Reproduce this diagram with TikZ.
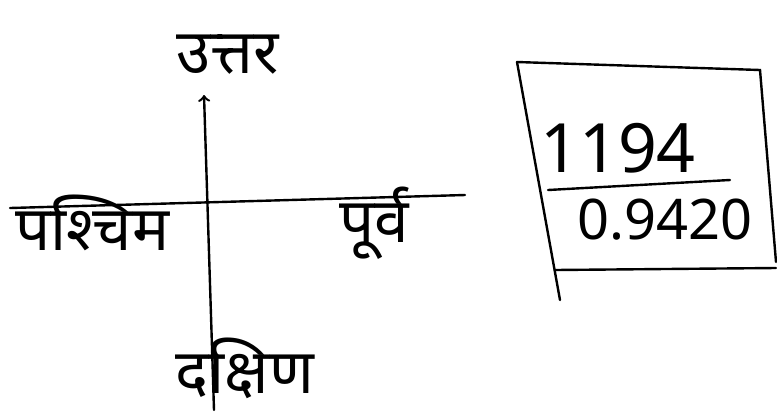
\documentclass[tikz,border=0pt]{standalone}
\usepackage{fontspec}
\newfontfamily\devfont[Script=Devanagari]{Noto Sans}
\begin{document}
\begin{tikzpicture}[x=0.5pt,y=-0.5pt,line width=1.2pt,line cap=round,
    dirlabel/.style={font=\devfont\fontsize{31}{34}\selectfont, inner sep=0pt},
    numlabel/.style={font=\devfont\fontsize{28}{32}\selectfont, inner sep=0pt}]
    \useasboundingbox (0,0) rectangle (777,414);
    % 方向
    \coordinate (axistop) at (204,95);
    \coordinate (axisbot) at (214,410);
    \coordinate (axisleft) at (10,208);
    \coordinate (axisright) at (465,195);
    \draw[->] (axisbot) -- (axistop);
    \draw (axisleft) -- (axisright);

    \node[dirlabel] (north) at (228,55) {उत्तर};
    \node[dirlabel, anchor=north west] (west) at (14,194) {पश्चिम};
    \node[dirlabel, anchor=north west] (east) at (338,186) {पूर्व};
    \node[dirlabel] (south) at (245,368) {दक्षिण};

    % 方框
    \coordinate (boxtl) at (517,62);
    \coordinate (boxtr) at (760,70);
    \coordinate (boxbl) at (560,300);
    \coordinate (boxbr) at (776,268);
    \draw (boxtl) -- (boxtr) -- (776,262);
    \draw (boxtl) -- (boxbl);
    \draw (555,270) -- (boxbr);
    \coordinate (midl) at (548,190);
    \coordinate (midr) at (730,180);
    \draw (midl) -- (midr);

    \node[numlabel, font=\devfont\fontsize{34}{38}\selectfont] (num) at (618,148) {1194};
    \node[numlabel] (den) at (665,220) {0.9420};
\end{tikzpicture}
\end{document}
